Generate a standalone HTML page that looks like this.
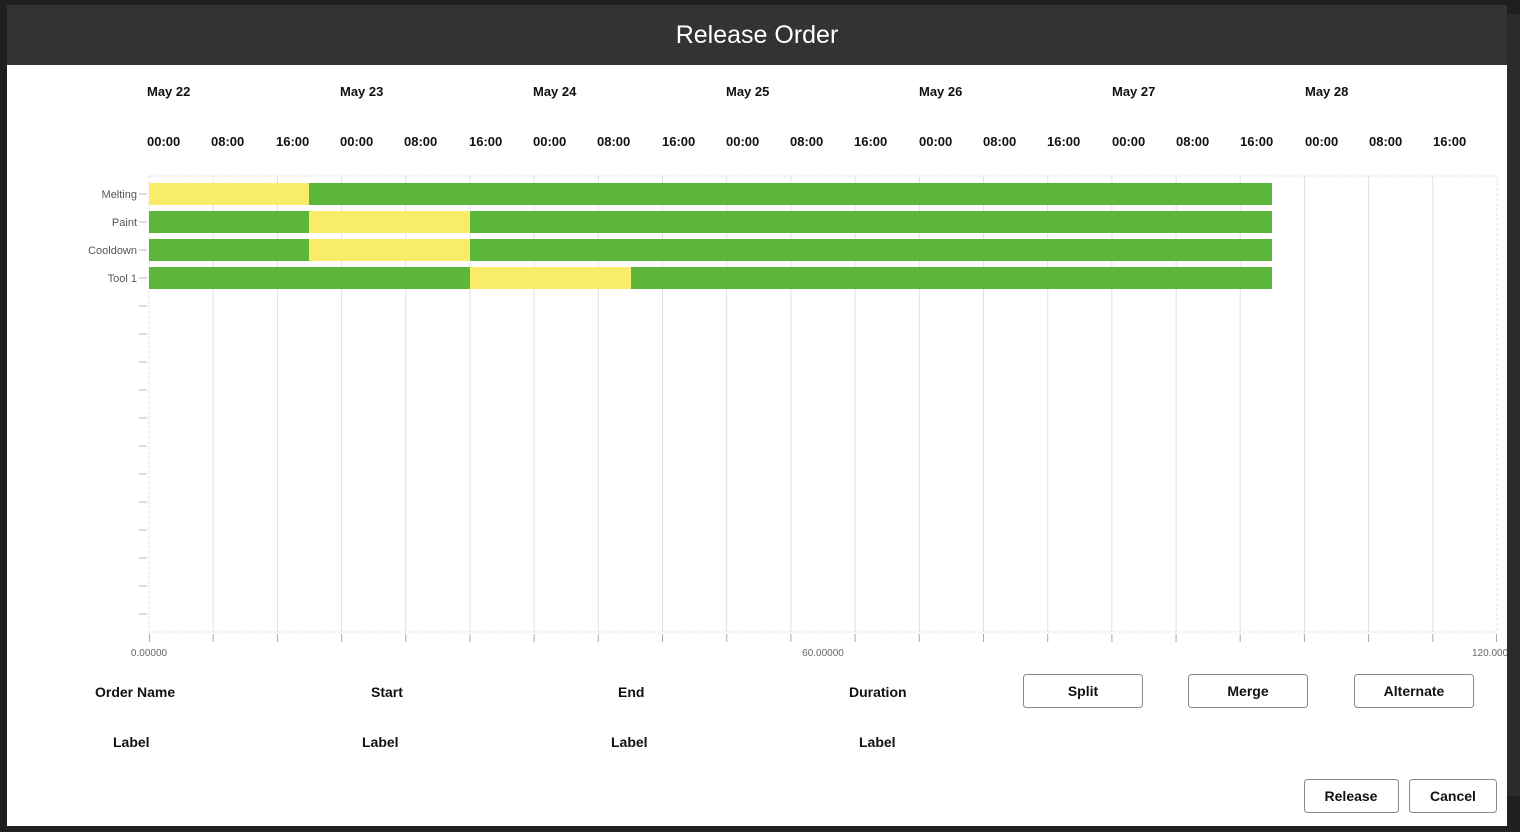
<!DOCTYPE html>
<html><head><meta charset="utf-8">
<style>
html,body{margin:0;padding:0;background:#1f1f1f;}
svg{display:block;font-family:"Liberation Sans",Arial,sans-serif;}
</style></head>
<body>
<svg width="1520" height="832" viewBox="0 0 1520 832" xmlns="http://www.w3.org/2000/svg">
<defs><clipPath id="cw"><rect x="7" y="65" width="1500" height="761"/></clipPath></defs>
<rect x="0" y="0" width="1520" height="832" fill="#1f1f1f"/>
<rect x="1507" y="14" width="13" height="782" fill="#2b2b2b"/>
<rect x="7" y="5" width="1500" height="60" fill="#333333"/>
<rect x="7" y="65" width="1500" height="761" fill="#ffffff"/>
<text x="757" y="43" text-anchor="middle" font-size="25" fill="#ffffff">Release Order</text>

<g font-size="13" font-weight="bold" fill="#111">
<text x="147" y="96">May 22</text><text x="340" y="96">May 23</text><text x="533" y="96">May 24</text>
<text x="726" y="96">May 25</text><text x="919" y="96">May 26</text><text x="1112" y="96">May 27</text>
<text x="1305" y="96">May 28</text>
<text x="147" y="146">00:00</text><text x="211" y="146">08:00</text><text x="276" y="146">16:00</text>
<text x="340" y="146">00:00</text><text x="404" y="146">08:00</text><text x="469" y="146">16:00</text>
<text x="533" y="146">00:00</text><text x="597" y="146">08:00</text><text x="662" y="146">16:00</text>
<text x="726" y="146">00:00</text><text x="790" y="146">08:00</text><text x="854" y="146">16:00</text>
<text x="919" y="146">00:00</text><text x="983" y="146">08:00</text><text x="1047" y="146">16:00</text>
<text x="1112" y="146">00:00</text><text x="1176" y="146">08:00</text><text x="1240" y="146">16:00</text>
<text x="1305" y="146">00:00</text><text x="1369" y="146">08:00</text><text x="1433" y="146">16:00</text>
</g>

<rect x="149" y="176" width="1348" height="456" fill="none" stroke="#e2e2e2" stroke-dasharray="3,2"/>
<g stroke="#e0e0e0" stroke-width="1">
<line x1="213.2" y1="176" x2="213.2" y2="632"/><line x1="277.4" y1="176" x2="277.4" y2="632"/>
<line x1="341.6" y1="176" x2="341.6" y2="632"/><line x1="405.8" y1="176" x2="405.8" y2="632"/>
<line x1="470" y1="176" x2="470" y2="632"/><line x1="534.1" y1="176" x2="534.1" y2="632"/>
<line x1="598.3" y1="176" x2="598.3" y2="632"/><line x1="662.5" y1="176" x2="662.5" y2="632"/>
<line x1="726.7" y1="176" x2="726.7" y2="632"/><line x1="790.9" y1="176" x2="790.9" y2="632"/>
<line x1="855.1" y1="176" x2="855.1" y2="632"/><line x1="919.3" y1="176" x2="919.3" y2="632"/>
<line x1="983.5" y1="176" x2="983.5" y2="632"/><line x1="1047.7" y1="176" x2="1047.7" y2="632"/>
<line x1="1111.9" y1="176" x2="1111.9" y2="632"/><line x1="1176.1" y1="176" x2="1176.1" y2="632"/>
<line x1="1240.2" y1="176" x2="1240.2" y2="632"/><line x1="1304.4" y1="176" x2="1304.4" y2="632"/>
<line x1="1368.6" y1="176" x2="1368.6" y2="632"/><line x1="1432.8" y1="176" x2="1432.8" y2="632"/>
</g>
<g stroke="#aaa" stroke-width="1">
<line x1="149.5" y1="634" x2="149.5" y2="642"/><line x1="213.2" y1="634" x2="213.2" y2="642"/><line x1="277.4" y1="634" x2="277.4" y2="642"/>
<line x1="341.6" y1="634" x2="341.6" y2="642"/><line x1="405.8" y1="634" x2="405.8" y2="642"/><line x1="470" y1="634" x2="470" y2="642"/>
<line x1="534.1" y1="634" x2="534.1" y2="642"/><line x1="598.3" y1="634" x2="598.3" y2="642"/><line x1="662.5" y1="634" x2="662.5" y2="642"/>
<line x1="726.7" y1="634" x2="726.7" y2="642"/><line x1="790.9" y1="634" x2="790.9" y2="642"/><line x1="855.1" y1="634" x2="855.1" y2="642"/>
<line x1="919.3" y1="634" x2="919.3" y2="642"/><line x1="983.5" y1="634" x2="983.5" y2="642"/><line x1="1047.7" y1="634" x2="1047.7" y2="642"/>
<line x1="1111.9" y1="634" x2="1111.9" y2="642"/><line x1="1176.1" y1="634" x2="1176.1" y2="642"/><line x1="1240.2" y1="634" x2="1240.2" y2="642"/>
<line x1="1304.4" y1="634" x2="1304.4" y2="642"/><line x1="1368.6" y1="634" x2="1368.6" y2="642"/><line x1="1432.8" y1="634" x2="1432.8" y2="642"/>
<line x1="1496.5" y1="634" x2="1496.5" y2="642"/>
</g>
<g font-size="10" fill="#666" clip-path="url(#cw)">
<text x="149" y="656" text-anchor="middle">0.00000</text>
<text x="823" y="656" text-anchor="middle">60.00000</text>
<text x="1472" y="656">120.00000</text>
</g>
<g stroke="#bbb" stroke-width="1">
<line x1="139" y1="194" x2="147" y2="194"/><line x1="139" y1="222" x2="147" y2="222"/>
<line x1="139" y1="250" x2="147" y2="250"/><line x1="139" y1="278" x2="147" y2="278"/>
<line x1="139" y1="306" x2="147" y2="306"/><line x1="139" y1="334" x2="147" y2="334"/>
<line x1="139" y1="362" x2="147" y2="362"/><line x1="139" y1="390" x2="147" y2="390"/>
<line x1="139" y1="418" x2="147" y2="418"/><line x1="139" y1="446" x2="147" y2="446"/>
<line x1="139" y1="474" x2="147" y2="474"/><line x1="139" y1="502" x2="147" y2="502"/>
<line x1="139" y1="530" x2="147" y2="530"/><line x1="139" y1="558" x2="147" y2="558"/>
<line x1="139" y1="586" x2="147" y2="586"/><line x1="139" y1="614" x2="147" y2="614"/>
</g>
<g font-size="11" fill="#555" text-anchor="end">
<text x="137" y="198">Melting</text><text x="137" y="226">Paint</text>
<text x="137" y="254">Cooldown</text><text x="137" y="282">Tool 1</text>
</g>
<rect x="149" y="183" width="160" height="22" fill="#f9ec6a"/>
<rect x="309" y="183" width="963" height="22" fill="#5cb63c"/>
<rect x="149" y="211" width="160" height="22" fill="#5cb63c"/>
<rect x="309" y="211" width="161" height="22" fill="#f9ec6a"/>
<rect x="470" y="211" width="802" height="22" fill="#5cb63c"/>
<rect x="149" y="239" width="160" height="22" fill="#5cb63c"/>
<rect x="309" y="239" width="161" height="22" fill="#f9ec6a"/>
<rect x="470" y="239" width="802" height="22" fill="#5cb63c"/>
<rect x="149" y="267" width="321" height="22" fill="#5cb63c"/>
<rect x="470" y="267" width="161" height="22" fill="#f9ec6a"/>
<rect x="631" y="267" width="641" height="22" fill="#5cb63c"/>

<g font-size="14" font-weight="bold" fill="#111">
<text x="95" y="697">Order Name</text><text x="371" y="697">Start</text>
<text x="618" y="697">End</text><text x="849" y="697">Duration</text>
<text x="113" y="747">Label</text><text x="362" y="747">Label</text>
<text x="611" y="747">Label</text><text x="859" y="747">Label</text>
</g>
<g fill="#fff" stroke="#8a8a8a" stroke-width="1">
<rect x="1023.5" y="674.5" width="119" height="33" rx="3"/>
<rect x="1188.5" y="674.5" width="119" height="33" rx="3"/>
<rect x="1354.5" y="674.5" width="119" height="33" rx="3"/>
<rect x="1304.5" y="779.5" width="94" height="33" rx="3"/>
<rect x="1409.5" y="779.5" width="87" height="33" rx="3"/>
</g>
<g font-size="14" font-weight="bold" fill="#111" text-anchor="middle">
<text x="1083" y="696">Split</text><text x="1248" y="696">Merge</text>
<text x="1414" y="696">Alternate</text>
<text x="1351" y="801">Release</text><text x="1453" y="801">Cancel</text>
</g>
</svg>
</body></html>
